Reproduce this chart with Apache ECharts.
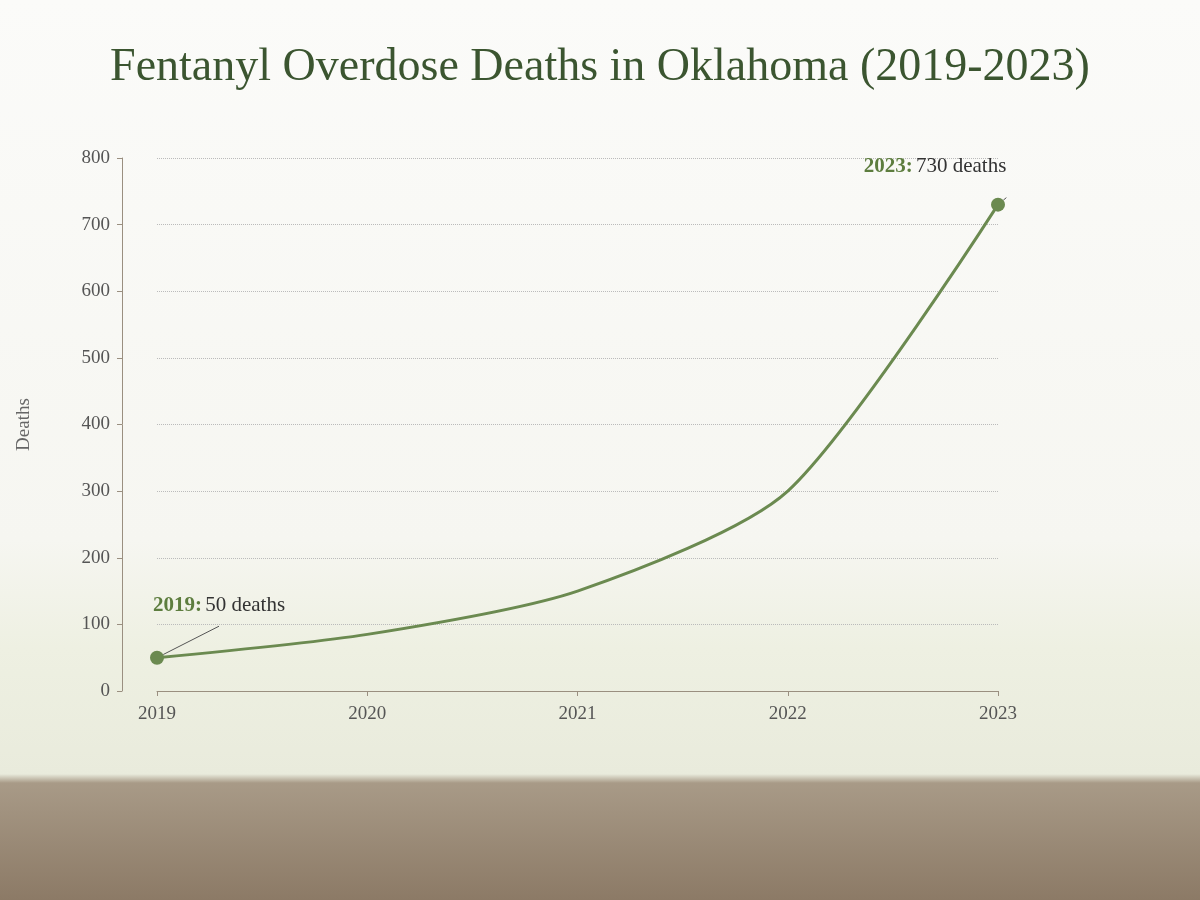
<!DOCTYPE html>
<html><head><meta charset="utf-8">
<script src="https://cdn.jsdelivr.net/npm/echarts@6/dist/echarts.min.js"></script>
<style>html,body{margin:0;padding:0}#c{width:1200px;height:900px}</style>
</head><body><div id="c"></div>
<script>
const years = ['2019','2020','2021','2022','2023'];
const deaths = [50, 85, 150, 300, 730];
const titleText = 'Fentanyl Overdose Deaths in Oklahoma (2019-2023)';
const green = '#6b8a50';
const chart = echarts.init(document.getElementById('c'));
const data = deaths.map((v,i)=>{
  const d = {value:v};
  if(i===0) d.label={show:true,position:'top',offset:[62,-30],formatter:'{y|'+years[i]+':} {n|'+v+' deaths}'};
  if(i===deaths.length-1) d.label={show:true,position:'top',offset:[-63,-16],formatter:'{y|'+years[i]+':} {n|'+v+' deaths}'};
  return d;
});
chart.setOption({
  backgroundColor:{type:'linear',x:0,y:0,x2:0,y2:1,colorStops:[
    {offset:0,color:'#fbfbf9'},{offset:0.6,color:'#f6f6f1'},{offset:0.72,color:'#eef0e2'},
    {offset:0.86,color:'#e9ebdc'},{offset:0.87,color:'#a89a87'},{offset:1,color:'#8c7a66'}]},
  title:{text:titleText,left:'center',top:40,textStyle:{fontFamily:'Liberation Serif',fontWeight:'normal',fontSize:46,color:'#3b5530'}},
  grid:{left:157,right:202,top:158,bottom:209},
  xAxis:{type:'category',data:years,boundaryGap:false,
    axisLine:{lineStyle:{color:'#9a8f80'}},axisTick:{show:true,alignWithLabel:true,lineStyle:{color:'#9a8f80'}},
    axisLabel:{fontFamily:'Liberation Serif',fontSize:19,color:'#555',margin:14}},
  yAxis:{type:'value',min:0,max:800,interval:100,offset:35,name:'Deaths',nameLocation:'middle',nameGap:88,
    nameTextStyle:{fontFamily:'Liberation Serif',fontSize:19,color:'#666'},
    axisLine:{show:true,lineStyle:{color:'#9a8f80'}},axisTick:{show:true,lineStyle:{color:'#9a8f80'}},
    axisLabel:{fontFamily:'Liberation Serif',fontSize:19,color:'#555',margin:12},
    splitLine:{lineStyle:{color:'#bbb',type:'dotted'}}},
  series:[{type:'line',data:data,smooth:0.25,
    symbol:(v,p)=> (p.dataIndex===0||p.dataIndex===deaths.length-1)?'circle':'none',symbolSize:14,
    lineStyle:{color:green,width:3},itemStyle:{color:green},
    label:{show:false,rich:{y:{fontFamily:'Liberation Serif',fontSize:21,fontWeight:'bold',color:'#5d7d3e'},
      n:{fontFamily:'Liberation Serif',fontSize:21,color:'#333'}}},
    labelLine:{show:true,lineStyle:{color:'#555',width:1}}}]
});
</script></body></html>
